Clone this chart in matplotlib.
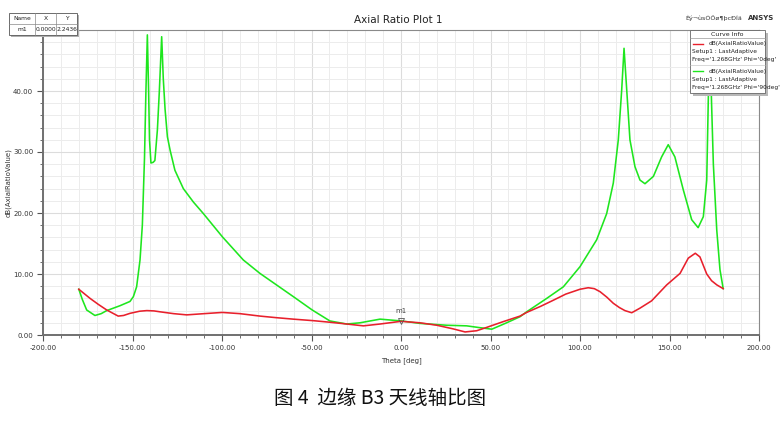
import matplotlib
matplotlib.use("Agg")
import matplotlib.pyplot as plt
from matplotlib.ticker import MultipleLocator, FormatStrFormatter
from matplotlib.patches import Rectangle
from matplotlib.lines import Line2D

# Axial ratio vs theta, Phi = 0 deg
theta_phi0 = [-180, -173.7, -169, -164.4, -158, -155, -151.4, -146, -142, -138, -134.6,
              -127, -119.7, -110, -99.8, -90, -78.8, -70, -60.2, -49, -40, -30.3, -21,
              -11.7, 0, 10.6, 20, 29.2, 35.8, 42.3, 47.9, 57.2, 66.5, 70.2, 78, 85.1, 92,
              100, 104.6, 108, 111.2, 115, 118.6, 122, 125.1, 128.9, 133.5, 140, 148.4,
              155.9, 160.5, 164.4, 167, 170.8, 173.5, 176.5, 180]
ar_phi0 = [7.5, 6.0, 5.0, 4.1, 3.1, 3.2, 3.55, 3.9, 4.0, 3.95, 3.8,
           3.5, 3.3, 3.5, 3.7, 3.5, 3.1, 2.85, 2.6, 2.35, 2.1, 1.8, 1.5,
           1.8, 2.2436, 2.0, 1.6, 1.0, 0.5, 0.7, 1.25, 2.2, 3.1, 3.7, 4.7, 5.7, 6.7,
           7.5, 7.75, 7.6, 7.1, 6.2, 5.2, 4.5, 4.0, 3.65, 4.4, 5.6, 8.2,
           10.1, 12.6, 13.4, 12.8, 10.0, 8.9, 8.2, 7.6]

# Axial ratio vs theta, Phi = 90 deg
theta_phi90 = [-180, -178, -175.6, -171, -167.5, -164.4, -157, -151.4, -149.5, -147.7,
               -145.8, -144.5, -143.3, -142.5, -141.7, -141, -140.5, -139.7, -138.5,
               -137.5, -136.1, -135, -133.7, -132.8, -131.8, -130.5, -129, -126.3,
               -121.6, -116, -110.4, -99.8, -88.1, -78.8, -69.5, -60.2, -49.6, -39.7,
               -30.3, -22.9, -11.7, 0.4, 10.6, 25.5, 36.7, 44.1, 50.7, 59, 66.5, 70.2,
               81.4, 90.7, 100, 109.3, 114.9, 118.6, 121.4, 123.3, 124.6, 126.1, 127.9,
               130.7, 133.5, 136.3, 141, 145.6, 149.3, 153, 157.7, 162.4, 166, 168.9,
               170.8, 171.7, 172.5, 173.5, 174.5, 176.4, 178.2, 180]
ar_phi90 = [7.5, 5.8, 4.1, 3.2, 3.5, 4.0, 4.8, 5.5, 6.3, 7.9,
            12.3, 18.0, 29.0, 40.0, 49.2, 40.0, 32.0, 28.2, 28.3,
            28.6, 33.6, 40.0, 48.9, 42.0, 37.0, 32.5, 30.3, 27.0,
            24.0, 21.8, 19.9, 16.1, 12.3, 10.1, 8.2, 6.3, 4.1, 2.3,
            1.8, 2.0, 2.6, 2.3, 1.9, 1.6, 1.5, 1.2, 0.95, 2.0, 3.0, 3.8,
            6.0, 7.9, 11.2, 15.6, 19.9, 24.9, 32.0, 40.2, 47.0, 40.2, 32.0,
            27.6, 25.4, 24.8, 26.0, 29.2, 31.2, 29.2, 23.8, 18.9, 17.6, 19.4,
            25.4, 39.0, 49.0, 38.0, 28.0, 17.2, 10.7, 7.6]

x_ticks = [-200, -150, -100, -50, 0, 50, 100, 150, 200]
y_ticks = [0, 10, 20, 30, 40]

marker_name = "m1"
marker_x = 0.0
marker_y = 2.2436

legend_lines = [
    ("dB(AxialRatioValue)", "Setup1 : LastAdaptive", "Freq='1.268GHz' Phi='0deg'"),
    ("dB(AxialRatioValue)", "Setup1 : LastAdaptive", "Freq='1.268GHz' Phi='90deg'"),
]

red = "#e8202c"
green = "#1ee61e"

W, H = 780, 423
fig = plt.figure(figsize=(7.8, 4.23), dpi=100)
fig.patch.set_facecolor("white")
ax = fig.add_axes([43 / W, 1 - 335 / H, (759 - 43) / W, (335 - 30) / H])

ax.plot(theta_phi0, ar_phi0, color=red, lw=1.15, zorder=3)
ax.plot(theta_phi90, ar_phi90, color=green, lw=1.15, zorder=2)

ax.set_xlim(-200, 200)
ax.set_ylim(0, 50)
ax.set_xticks(x_ticks)
ax.set_yticks(y_ticks)
ax.xaxis.set_minor_locator(MultipleLocator(10))
ax.yaxis.set_minor_locator(MultipleLocator(2))
ax.xaxis.set_major_formatter(FormatStrFormatter("%.2f"))
ax.yaxis.set_major_formatter(FormatStrFormatter("%.2f"))
ax.grid(True, which="major", color="#dcdcdc", lw=0.8)
ax.grid(True, which="minor", color="#ececec", lw=0.7)
ax.set_axisbelow(True)
ax.tick_params(which="major", direction="out", length=4, width=0.8, color="#555555",
               labelsize=5, labelcolor="#333333", pad=3)
ax.tick_params(which="minor", direction="out", length=2.5, width=0.6, color="#555555")
for side in ("top", "right"):
    ax.spines[side].set_color("#8a8a8a")
    ax.spines[side].set_linewidth(0.8)
for side in ("left", "bottom"):
    ax.spines[side].set_color("#707070")
    ax.spines[side].set_linewidth(1.4)

ax.set_xlabel("Theta [deg]", fontsize=5, color="#333333")
ax.xaxis.set_label_coords(0.5, (335 - 357) / 305)
ax.set_ylabel("dB(AxialRatioValue)", fontsize=5, color="#333333")
ax.yaxis.set_label_coords((12 - 43) / 716, 0.5)

# marker m1
ax.plot([marker_x], [marker_y], marker="v", ms=4, mfc="none", mec="#555555", mew=0.6, zorder=4)
ax.annotate(marker_name, (marker_x, marker_y), xytext=(0, 5), textcoords="offset points",
            ha="center", va="bottom", fontsize=5, color="#444444")

# title and header texts
fig.text(398 / W, 1 - 20 / H, "Axial Ratio Plot 1", ha="center", va="center",
         fontsize=7.5, color="#222222")
fig.text(742 / W, 1 - 18 / H, "Èý¬ùsÓÖø¶þcÐÍä", ha="right", va="center",
         fontsize=4.6, color="#333333")
fig.text(748 / W, 1 - 18 / H, "ANSYS", ha="left", va="center",
         fontsize=5, color="#333333", fontweight="bold")

# marker table
tx0, ty0 = 9, 13
col_w = [26, 21, 21]
row_h = 11
tab_w = sum(col_w)
fig.patches.append(Rectangle(((tx0 + 2) / W, 1 - (ty0 + 2 * row_h + 2) / H),
                             tab_w / W, 2 * row_h / H, transform=fig.transFigure,
                             facecolor="#b0b0b0", edgecolor="none", zorder=5))
fig.patches.append(Rectangle((tx0 / W, 1 - (ty0 + 2 * row_h) / H),
                             tab_w / W, 2 * row_h / H, transform=fig.transFigure,
                             facecolor="white", edgecolor="#555555", lw=0.6, zorder=6))
fig.lines.append(Line2D([tx0 / W, (tx0 + tab_w) / W],
                        [1 - (ty0 + row_h) / H] * 2, transform=fig.transFigure,
                        color="#888888", lw=0.5, zorder=7))
cx = tx0
for w in col_w[:-1]:
    cx += w
    fig.lines.append(Line2D([cx / W] * 2, [1 - ty0 / H, 1 - (ty0 + 2 * row_h) / H],
                            transform=fig.transFigure, color="#888888", lw=0.5, zorder=7))
rows = [["Name", "X", "Y"], [marker_name, f"{marker_x:.4f}", f"{marker_y:.4f}"]]
for r, row in enumerate(rows):
    cx = tx0
    for c, txt in enumerate(row):
        fig.text((cx + col_w[c] / 2) / W, 1 - (ty0 + row_h * r + row_h / 2) / H, txt,
                 ha="center", va="center", fontsize=4.3, color="#222222", zorder=8)
        cx += col_w[c]

# curve info box
lx0, ly0, lx1, ly1 = 690, 30, 765, 93
fig.patches.append(Rectangle(((lx0 + 3) / W, 1 - (ly1 + 3) / H), (lx1 - lx0) / W,
                             (ly1 - ly0) / H, transform=fig.transFigure,
                             facecolor="#b8b8b8", edgecolor="none", zorder=5))
fig.patches.append(Rectangle((lx0 / W, 1 - ly1 / H), (lx1 - lx0) / W,
                             (ly1 - ly0) / H, transform=fig.transFigure,
                             facecolor="white", edgecolor="#666666", lw=0.6, zorder=6))
fig.text((lx0 + lx1) / 2 / W, 1 - 34 / H, "Curve Info", ha="center", va="center",
         fontsize=4.5, color="#222222", zorder=8)
fig.lines.append(Line2D([lx0 / W, lx1 / W], [1 - 38.5 / H] * 2,
                        transform=fig.transFigure, color="#999999", lw=0.5, zorder=7))
for i, (name, setup, freq) in enumerate(legend_lines):
    base = 44 + i * 27
    col = red if i == 0 else green
    fig.lines.append(Line2D([693 / W, 703 / W], [1 - base / H] * 2,
                            transform=fig.transFigure, color=col, lw=1.0, zorder=8))
    fig.text(709 / W, 1 - base / H, name, ha="left", va="center", fontsize=4.2,
             color="#222222", zorder=8)
    fig.text(692 / W, 1 - (base + 8) / H, setup, ha="left", va="center", fontsize=4.2,
             color="#222222", zorder=8)
    fig.text(692 / W, 1 - (base + 16) / H, freq, ha="left", va="center", fontsize=4.2,
             color="#222222", zorder=8)
    if i == 0:
        fig.lines.append(Line2D([lx0 / W, lx1 / W], [1 - (base + 21) / H] * 2,
                                transform=fig.transFigure, color="#bbbbbb", lw=0.4, zorder=7))

# caption
fig.text(380 / W, 1 - 398 / H, "图 4  边缘 B3 天线轴比图", ha="center", va="center",
         fontsize=14, color="#111111", family=["Noto Sans CJK SC", "DejaVu Sans"])

fig.savefig("out.png", dpi=100, facecolor="white")
